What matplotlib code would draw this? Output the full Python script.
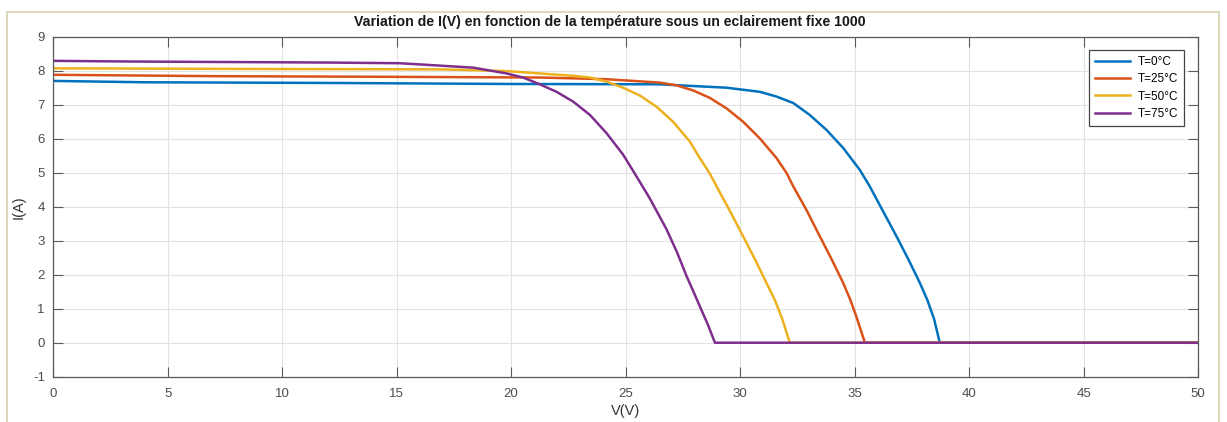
import numpy as np
import matplotlib
matplotlib.use("Agg")
import matplotlib.pyplot as plt
from matplotlib.patches import Rectangle

plt.rcParams['font.family'] = ['Liberation Sans', 'DejaVu Sans']
plt.rcParams['axes.unicode_minus'] = False

# I(V) curves, one (V, I) list per temperature
v_t0 = [0, 4, 12, 20, 26.49, 29.41, 30.86, 31.59, 32.32, 33.04, 33.77, 34.5, 35.23,
        35.66, 36.2, 36.83, 37.35, 37.85, 38.18, 38.47, 38.72, 50]
i_t0 = [7.70, 7.66, 7.64, 7.61, 7.60, 7.50, 7.38, 7.24, 7.05, 6.70, 6.26, 5.73, 5.08,
        4.60, 3.92, 3.13, 2.45, 1.76, 1.25, 0.70, 0.0, 0.0]

v_t25 = [0, 7, 15, 21.25, 24.17, 26.49, 27.22, 27.95, 28.68, 29.41, 30.13, 30.86, 31.59,
         32.03, 32.32, 32.9, 33.48, 34.0, 34.5, 34.82, 35.1, 35.45, 50]
i_t25 = [7.88, 7.84, 7.82, 7.80, 7.75, 7.65, 7.57, 7.42, 7.20, 6.89, 6.50, 6.01, 5.43,
         4.99, 4.60, 3.90, 3.13, 2.45, 1.76, 1.25, 0.72, 0.0, 0.0]

v_t50 = [0, 10, 16.89, 19.8, 21.25, 22.71, 23.44, 24.17, 24.89, 25.62, 26.35, 27.07,
         27.8, 28.24, 28.68, 28.97, 29.55, 30.13, 30.65, 31.15, 31.52, 31.83, 32.17, 50]
i_t50 = [8.07, 8.05, 8.04, 7.99, 7.92, 7.85, 7.80, 7.68, 7.50, 7.27, 6.94, 6.50,
         5.92, 5.43, 4.97, 4.60, 3.88, 3.13, 2.45, 1.76, 1.25, 0.72, 0.0, 0.0]

v_t75 = [0, 3.5, 12, 15.14, 16.89, 18.34, 19.8, 20.52, 21.25, 21.98, 22.71, 23.44, 24.17,
         24.89, 25.33, 26.05, 26.79, 27.25, 27.66, 27.95, 28.24, 28.58, 28.9, 50]
i_t75 = [8.29, 8.27, 8.24, 8.22, 8.15, 8.09, 7.92, 7.80, 7.60, 7.38, 7.09, 6.70, 6.16,
         5.53, 5.05, 4.25, 3.33, 2.65, 1.96, 1.52, 1.07, 0.55, 0.0, 0.0]

labels = ['T=0°C', 'T=25°C', 'T=50°C', 'T=75°C']
colors = ['#0072BD', '#D95319', '#EDB120', '#7E2F8E']
curves = [(v_t0, i_t0), (v_t25, i_t25), (v_t50, i_t50), (v_t75, i_t75)]

fig = plt.figure(figsize=(12.27, 4.22), dpi=100)
ax = fig.add_axes([0.0434, 0.1073, 0.9330, 0.8057])

# beige frame around the figure (bottom edge runs off the image)
fig.patches.append(Rectangle((0.0057, -0.05), 0.9878, 1.0216, transform=fig.transFigure,
                             fill=False, edgecolor='#d6cfb0', linewidth=1.2))

for (v, i), lab, c in zip(curves, labels, colors):
    ax.plot(v, i, color=c, linewidth=1.8, label=lab)

ax.set_xlim(0, 50)
ax.set_ylim(-1, 9)
ax.set_xticks(np.arange(0, 51, 5))
ax.set_yticks(np.arange(-1, 10, 1))
ax.grid(True, color='#e2e2e2', linewidth=0.8)
ax.set_axisbelow(True)

for s in ax.spines.values():
    s.set_color('#5a5a5a')
    s.set_linewidth(0.9)
ax.tick_params(direction='in', length=7, width=0.8, colors='#5a5a5a',
               labelcolor='#4d4d4d', labelsize=9.5, top=True, right=True)
ax.tick_params(axis='x', pad=8)
ax.tick_params(axis='y', pad=6)

ax.set_title('Variation de I(V) en fonction de la température sous un eclairement fixe 1000',
             fontsize=10.2, fontweight='bold', color='#1a1a1a', pad=8, x=0.486)
ax.set_xlabel('V(V)', fontsize=10.5, color='#333333', labelpad=3)
ax.set_ylabel('I(A)', fontsize=10.5, color='#333333', labelpad=5)

leg = ax.legend(loc='upper right', bbox_to_anchor=(0.9875, 0.961), borderaxespad=0,
                fontsize=8.5, fancybox=False, framealpha=1, edgecolor='#444444',
                handlelength=3.0, handletextpad=0.6, labelspacing=0.45, borderpad=0.5)
leg.get_frame().set_linewidth(0.9)

fig.savefig('out.png', dpi=100)
